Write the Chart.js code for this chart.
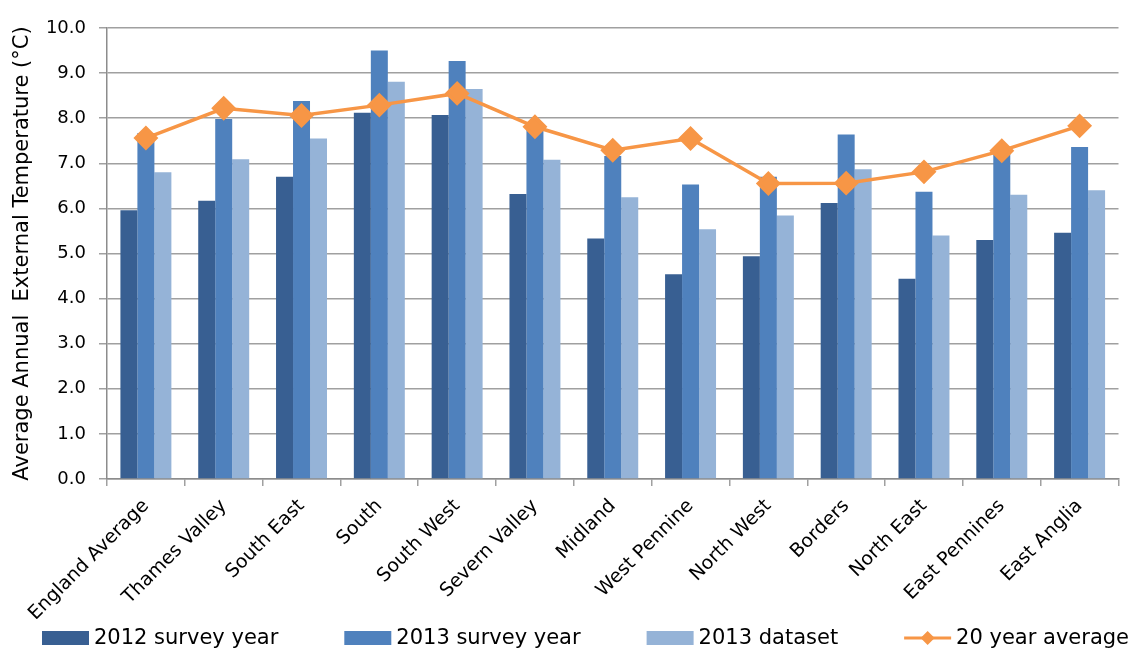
<!DOCTYPE html>
<html>
<head>
<meta charset="utf-8">
<script src="https://cdn.jsdelivr.net/npm/chart.js@4"></script>
<style>
  html, body { margin: 0; padding: 0; background: #fff; }
  #wrap { width: 1132px; height: 649px; }
</style>
</head>
<body>
<div id="wrap"><canvas id="chart" width="1132" height="649"></canvas></div>
<script>
// region names along the x axis
const categories = [
    'England Average', 'Thames Valley', 'South East', 'South', 'South West',
    'Severn Valley', 'Midland', 'West Pennine', 'North West', 'Borders',
    'North East', 'East Pennines', 'East Anglia'
];

// average annual external temperature, deg C
const survey2012 = [5.96, 6.17, 6.70, 8.12, 8.07, 6.32, 5.33, 4.54, 4.94, 6.12, 4.44, 5.30, 5.46];
const survey2013 = [7.67, 7.98, 8.38, 9.50, 9.27, 7.86, 7.16, 6.53, 6.70, 7.64, 6.37, 7.26, 7.36];
const dataset2013 = [6.80, 7.09, 7.55, 8.81, 8.65, 7.08, 6.25, 5.54, 5.84, 6.87, 5.40, 6.30, 6.40];
const avg20yr = [7.56, 8.22, 8.06, 8.29, 8.55, 7.81, 7.29, 7.55, 6.55, 6.56, 6.81, 7.28, 7.83];

const yTicks = [0, 1, 2, 3, 4, 5, 6, 7, 8, 9, 10];

const COL_2012 = '#385f92';
const COL_2013 = '#4f81bd';
const COL_DATA = '#95b3d7';
const COL_AVG = '#f79646';
const GRID = '#a0a0a0';
const FONT = '"DejaVu Sans", sans-serif';

// legend row under the axis labels: bars first, the line last
const bottomLegend = {
    id: 'bottomLegend',
    afterDraw(chart) {
        const c = chart.ctx;
        const ds = chart.data.datasets;
        const cy = 638;
        let x = 42;
        c.save();
        c.font = '21px ' + FONT;
        c.textBaseline = 'middle';
        c.fillStyle = '#000';
        [1, 2, 3, 0].forEach(i => {
            const d = ds[i];
            if (d.type === 'line') {
                c.strokeStyle = d.borderColor;
                c.lineWidth = 3;
                c.beginPath(); c.moveTo(x, cy); c.lineTo(x + 47, cy); c.stroke();
                c.fillStyle = d.borderColor;
                c.beginPath();
                c.moveTo(x + 23.5, cy - 7); c.lineTo(x + 30.5, cy);
                c.lineTo(x + 23.5, cy + 7); c.lineTo(x + 16.5, cy);
                c.closePath(); c.fill();
            } else {
                c.fillStyle = d.backgroundColor;
                c.fillRect(x, cy - 7, 47, 14);
            }
            c.fillStyle = '#000';
            c.fillText(d.label, x + 52, cy + 1);
            x += 52 + c.measureText(d.label).width + 66;
        });
        c.restore();
    }
};

const ctx = document.getElementById('chart').getContext('2d');

new Chart(ctx, {
    type: 'bar',
    data: {
        labels: categories,
        datasets: [
            {
                type: 'line',
                label: '20 year average',
                data: avg20yr,
                borderColor: COL_AVG,
                backgroundColor: COL_AVG,
                borderWidth: 3.5,
                pointStyle: 'rectRot',
                pointRadius: 10,
                pointBackgroundColor: COL_AVG,
                pointBorderColor: COL_AVG,
                tension: 0,
                order: 0
            },
            { label: '2012 survey year', data: survey2012, backgroundColor: COL_2012, order: 1 },
            { label: '2013 survey year', data: survey2013, backgroundColor: COL_2013, order: 1 },
            { label: '2013 dataset', data: dataset2013, backgroundColor: COL_DATA, order: 1 }
        ]
    },
    options: {
        responsive: false,
        animation: false,
        layout: { padding: { top: 28, right: 3, left: 0, bottom: 30 } },
        datasets: {
            bar: { categoryPercentage: 0.655, barPercentage: 1.0 }
        },
        plugins: {
            tooltip: { enabled: false },
            legend: { display: false }
        },
        scales: {
            x: {
                afterFit: (scale) => {
                    scale.height = 140;
                    scale.paddingRight = 0;
                    scale.paddingLeft = 0;
                },
                grid: {
                    display: true,
                    drawOnChartArea: false,
                    drawTicks: true,
                    tickLength: 7,
                    color: GRID,
                    lineWidth: 1.5
                },
                border: { color: '#8c8c8c', width: 1.5 },
                ticks: {
                    color: '#000',
                    maxRotation: 45,
                    minRotation: 45,
                    autoSkip: false,
                    padding: 9,
                    font: { family: FONT, size: 19 }
                }
            },
            y: {
                min: 0,
                max: 10,
                afterBuildTicks: (scale) => { scale.ticks = yTicks.map(v => ({ value: v })); },
                afterFit: (scale) => { scale.width = 107; },
                grid: {
                    color: GRID,
                    lineWidth: 1.5,
                    tickLength: 8
                },
                border: { color: '#8c8c8c', width: 1.5 },
                ticks: {
                    color: '#000',
                    padding: 13,
                    font: { family: FONT, size: 18 },
                    callback: (v) => Number(v).toFixed(1)
                },
                title: {
                    display: true,
                    text: 'Average Annual  External Temperature (°C)',
                    color: '#000',
                    padding: { top: 10, bottom: 0 },
                    font: { family: FONT, size: 21 }
                }
            }
        }
    },
    plugins: [bottomLegend]
});
</script>
</body>
</html>
